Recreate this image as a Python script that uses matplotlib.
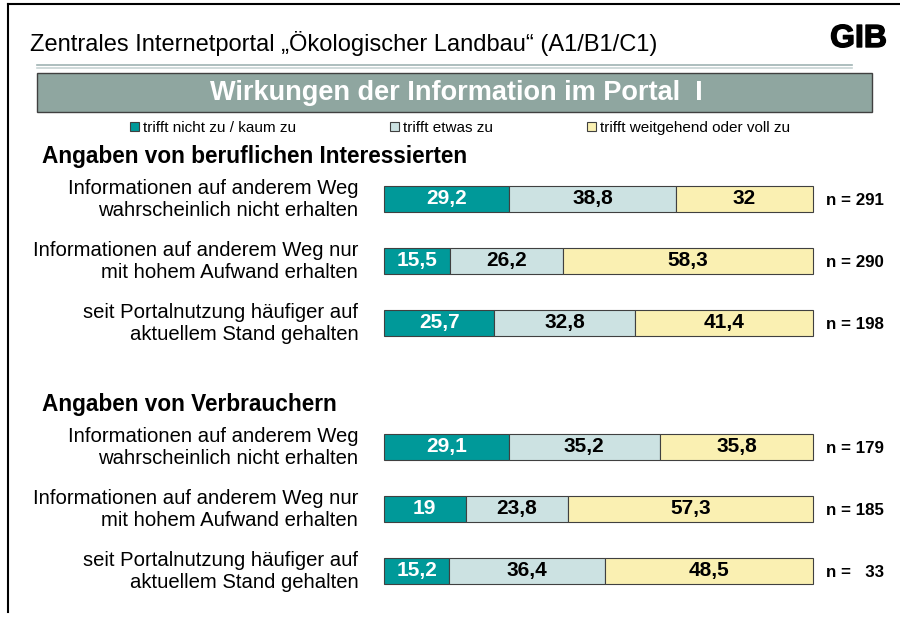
"""Wirkungen der Information im Portal I - gestapelte Balken (Prozent)."""
import numpy as np
import matplotlib
matplotlib.use("Agg")
import matplotlib.pyplot as plt
import matplotlib.patheffects as pe
from matplotlib.patches import Rectangle

plt.rcParams["font.family"] = ["Liberation Sans", "DejaVu Sans"]

HEADER = "Zentrales Internetportal „Ökologischer Landbau“ (A1/B1/C1)"
TITLE = "Wirkungen der Information im Portal  I"
GROUPS = ["Angaben von beruflichen Interessierten", "Angaben von Verbrauchern"]
CATEGORIES = ["trifft nicht zu / kaum zu", "trifft etwas zu",
              "trifft weitgehend oder voll zu"]
ROW_LABELS = [
    "Informationen auf anderem Weg\nwahrscheinlich nicht erhalten",
    "Informationen auf anderem Weg nur\nmit hohem Aufwand erhalten",
    "seit Portalnutzung häufiger auf\naktuellem Stand gehalten",
] * 2
nicht_zu = [29.2, 15.5, 25.7, 29.1, 19.0, 15.2]
etwas_zu = [38.8, 26.2, 32.8, 35.2, 23.8, 36.4]
voll_zu = [32.0, 58.3, 41.4, 35.8, 57.3, 48.5]
value_text = [["29,2", "15,5", "25,7", "29,1", "19", "15,2"],
              ["38,8", "26,2", "32,8", "35,2", "23,8", "36,4"],
              ["32", "58,3", "41,4", "35,8", "57,3", "48,5"]]
n_text = ["n = 291", "n = 290", "n = 198", "n = 179", "n = 185", "n =   33"]

COLORS = ["#009999", "#CCE2E2", "#FAF0B2"]
TEXT_COLORS = ["white", "black", "black"]

W, H = 900, 617
fig = plt.figure(figsize=(W / 100, H / 100), dpi=100)

# overlay in pixel coordinates for frame, header, banner
deco = fig.add_axes([0, 0, 1, 1])
deco.set_xlim(0, W)
deco.set_ylim(H, 0)
deco.axis("off")
deco.plot([8, W], [4, 4], color="black", lw=1.5)
deco.plot([8, 8], [4, 612], color="black", lw=1.5)
deco.text(30, 44, HEADER, fontsize=17, va="center", ha="left")
deco.text(887, 39, "GIB", fontsize=23, fontweight="bold", va="center", ha="right",
          path_effects=[pe.withStroke(linewidth=1.0, foreground="black")])
deco.plot([37, 852], [65, 65], color="#9FB3B3", lw=1.2)
deco.plot([37, 852], [68, 68], color="#C8D4D4", lw=1.2)
deco.add_patch(Rectangle((37, 73), 835, 39, facecolor="#8FA6A0",
                         edgecolor="#404040", lw=1))
deco.text(456, 93, TITLE, fontsize=19.5, fontweight="bold", color="white",
          ha="center", va="center")
deco.text(42, 157, GROUPS[0], fontsize=16.3, fontweight="bold", va="center")
deco.text(42, 405, GROUPS[1], fontsize=16.3, fontweight="bold", va="center")

# bars
ax = fig.add_axes([384 / W, 1 - 602 / H, (813 - 384) / W, 434 / H])
ypos = np.array([0, 1, 2, 4, 5, 6])
left = np.zeros(len(ypos))
handles = []
for i, vals in enumerate([nicht_zu, etwas_zu, voll_zu]):
    vals = np.array(vals)
    b = ax.barh(ypos, vals, left=left, height=0.41, color=COLORS[i],
                edgecolor="#404040", linewidth=0.8, label=CATEGORIES[i],
                clip_on=False)
    handles.append(b)
    for y, l, v, t in zip(ypos, left, vals, value_text[i]):
        ax.text(l + v / 2, y + 0.085, t, ha="center", va="baseline",
                fontsize=15, fontweight="bold", color=TEXT_COLORS[i])
    left += vals

for y, lab, n in zip(ypos, ROW_LABELS, n_text):
    ax.text(-6.0, y, lab, ha="right", va="center", fontsize=14.6,
            linespacing=1.2, clip_on=False)
    ax.text(103.0, y + 0.1, n, ha="left", va="baseline", fontsize=12.2,
            fontweight="bold", clip_on=False)

ax.set_xlim(0, 100)
ax.set_ylim(6.5, -0.5)
ax.axis("off")

fig.legend(handles=handles, labels=CATEGORIES, ncol=3, frameon=False,
           loc="upper left", bbox_to_anchor=(130 / W, 1 - 121 / H),
           borderpad=0, borderaxespad=0, fontsize=11,
           handlelength=0.6, handleheight=0.6, handletextpad=0.25,
           columnspacing=6.15)

fig.savefig("out.png", dpi=100)
